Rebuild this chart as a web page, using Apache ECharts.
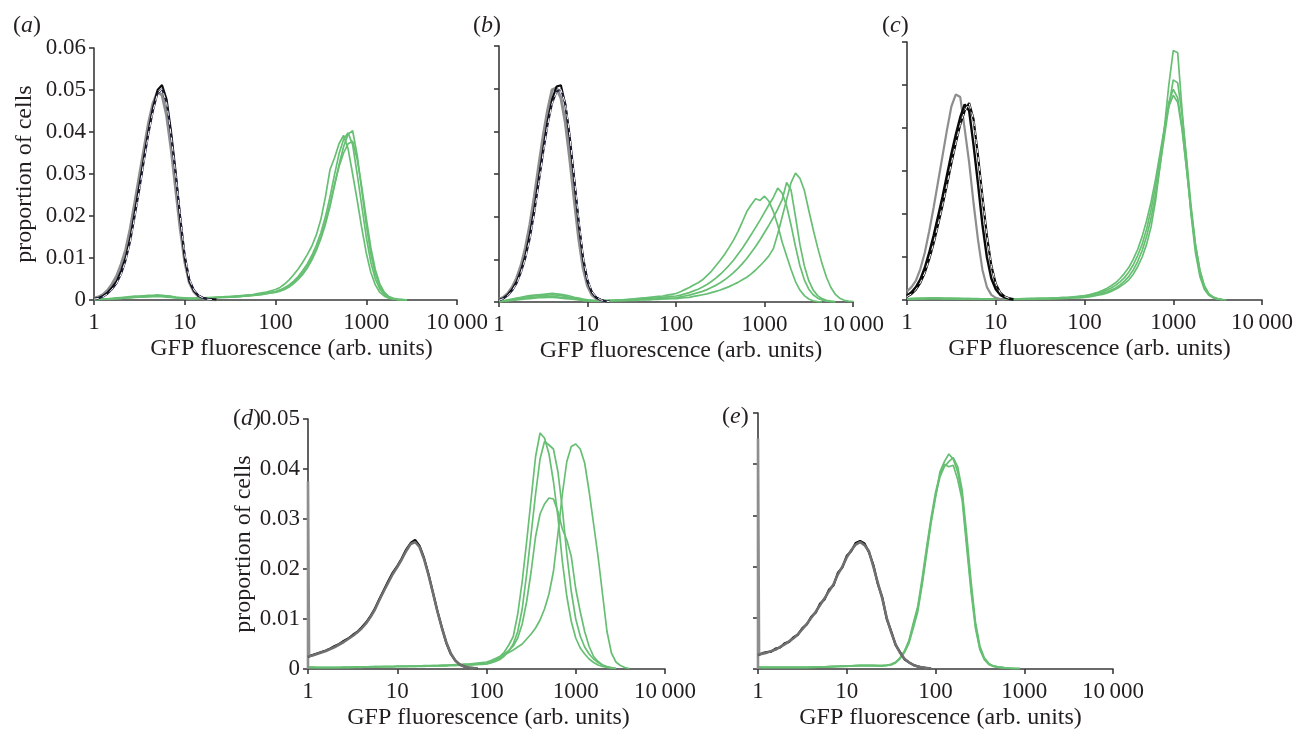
<!DOCTYPE html>
<html><head><meta charset="utf-8">
<script src="https://cdn.jsdelivr.net/npm/echarts@6/dist/echarts.min.js"></script>
<style>html,body{margin:0;padding:0;background:#fff}#c{width:1306px;height:731px}</style>
</head><body><div id="c"></div><script>
// bin centres, log10 of GFP fluorescence (arb. units)
const logBins = [0,0.05,0.1,0.15,0.2,0.25,0.3,0.35,0.4,0.45,
 0.5,0.55,0.6,0.65,0.7,0.75,0.8,0.85,0.9,0.95,
 1,1.05,1.1,1.15,1.2,1.25,1.3,1.35,1.4,1.45,
 1.5,1.55,1.6,1.65,1.7,1.75,1.8,1.85,1.9,1.95,
 2,2.05,2.1,2.15,2.2,2.25,2.3,2.35,2.4,2.45,
 2.5,2.55,2.6,2.65,2.7,2.75,2.8,2.85,2.9,2.95,
 3,3.05,3.1,3.15,3.2,3.25,3.3,3.35,3.4,3.45,
 3.5,3.55,3.6,3.65,3.7,3.75,3.8,3.85,3.9,3.95,4];
const xTickLabels = ['1','10','100','1000','10\u2009000'];
const yTickLabels = ['0','0.01','0.02','0.03','0.04','0.05','0.06'];
const panelLetters = ['a','b','c','d','e'];
const xName = 'GFP fluorescence (arb. units)';
const yName = 'proportion of cells';

// proportion of cells, in units of 1/10 000, per bin (starting at logBins[0])
// ---- panel (a)
const aGray = [4,7,13,23,38,57,85,120,170,232, 295,358,420,468,495,488,440,360,265,170, 92,42,20,9,4,2,1,0];
const aBlack = [3,5,10,18,30,45,70,102,148,210, 272,338,402,458,500,512,478,400,305,195, 100,45,22,10,5,3,2,1];
const aDash = [2,4,8,15,26,40,62,95,140,200, 262,330,395,450,492,502,470,392,300,200, 108,50,24,11,5,2,1];
const aG1 = [2,2,3,3,4,5,6,7,8,9, 9,10,11,11,12,11,10,9,7,6, 5,4,4,5,5,6,6,7,7,8, 8,9,10,11,12,13,15,17,19,22,
 25,30,38,48,60,74,90,108,128,155, 192,245,310,338,372,392,360,300,238,172, 112,66,36,18,9,4,2,1,1,0];
const aG2 = [1,2,2,3,3,4,5,6,7,7, 8,9,9,10,10,10,9,8,6,5, 4,4,4,4,5,5,6,6,7,7, 8,8,9,10,11,12,13,15,17,19,
 20,24,29,36,45,56,70,86,106,130, 160,198,245,298,348,382,398,370,300,225, 150,90,50,26,12,6,3,1,0,0];
const aG3 = [2,2,2,3,3,4,4,5,6,7, 7,8,8,9,9,9,8,7,6,5, 4,4,4,4,4,5,5,6,6,7, 7,8,8,9,10,11,12,14,15,17,
 18,21,25,31,39,49,61,76,95,118, 146,180,222,272,322,365,395,403,345,262, 180,110,62,32,15,7,3,1,0,0];
const aG4 = [1,1,2,2,3,3,4,5,5,6, 7,7,8,8,8,8,7,6,5,4, 4,3,3,4,4,4,5,5,6,6, 7,7,8,9,10,11,12,13,15,17,
 19,23,28,34,42,52,65,80,99,122, 150,186,228,275,318,350,372,378,335,270, 195,125,72,38,18,8,4,2,1,0];
// ---- panel (b)
const bGray = [6,11,20,35,56,86,128,182,248,320, 390,450,497,502,478,420,335,240,150,80, 38,17,8,4,2,1];
const bBlack = [5,9,17,30,48,75,110,160,220,290, 360,425,475,505,508,462,382,285,185,100, 48,22,10,5,2,1];
const bDash = [4,8,15,27,44,70,104,150,210,280, 350,415,465,493,498,465,390,292,192,106, 52,24,11,5,2,1];
const bG1 = [2,3,5,7,9,11,13,15,16,17, 18,19,20,19,18,16,14,11,9,7, 5,4,3,3,3,4,4,5,5,6, 7,8,9,10,11,12,13,14,16,18,
 20,24,29,34,40,45,52,62,72,85, 98,112,128,145,165,188,212,228,242,238, 248,236,212,180,140,108,76,48,28,15, 7,3,1,0];
const bG2 = [2,3,4,6,8,10,12,13,14,15, 16,16,17,16,15,13,11,9,7,5, 4,3,3,3,3,3,4,4,5,5, 6,6,7,8,8,9,10,11,12,13,
 14,16,19,22,26,30,35,41,48,56, 65,75,86,98,112,126,142,158,175,192, 210,228,245,267,255,225,180,130,85,52, 30,17,9,5,2,1,0];
const bG3 = [1,2,3,5,6,8,9,10,11,12, 13,13,13,12,11,10,9,7,6,4, 3,3,2,2,3,3,3,4,4,4, 5,5,6,6,7,7,8,8,9,9,
 10,12,14,16,19,22,25,29,34,39, 45,52,60,69,79,90,102,116,130,146, 163,180,198,218,240,280,262,200,135,85, 50,28,15,8,4,2,1];
const bG4 = [1,2,3,4,5,6,7,8,9,10, 10,11,11,10,9,8,7,6,5,4, 3,2,2,2,2,3,3,3,3,4, 4,4,5,5,5,6,6,7,7,8,
 8,9,10,11,13,15,17,19,22,25, 28,32,36,41,46,52,58,66,75,85, 96,108,125,160,200,240,280,302,290,262, 215,170,128,90,58,34,18,9,4,2,1];
// ---- panel (c)
const cGray = [20,30,45,72,110,160,215,275,335,395, 450,478,472,398,320,225,140,70,30,12, 5,2,1];
const cBlack = [10,18,30,48,75,110,150,195,240,290, 340,385,425,455,440,360,270,175,100,50, 25,12,6,3,1];
const cDark = [8,14,24,40,63,95,132,175,220,268, 318,365,408,440,458,420,335,240,150,80, 38,17,8,4,2];
const cG1 = [3,3,4,4,4,5,5,5,4,4, 4,4,3,3,3,3,3,2,2,2, 2,2,2,2,2,2,2,2,2,3, 3,3,3,3,4,4,4,5,5,5,
 6,7,9,11,13,16,20,25,31,38, 47,60,78,100,130,170,230,310,400,500, 580,575,440,320,200,110,55,25,11,5, 2,1,0];
const cG2 = [2,3,3,3,4,4,4,4,4,3, 3,3,3,3,3,2,2,2,2,2, 2,2,2,2,2,2,2,2,3,3, 3,3,3,4,4,4,5,5,6,7,
 8,9,11,13,16,19,23,28,35,44, 55,70,90,115,148,190,245,310,380,450, 512,505,430,330,220,130,68,32,14,6, 3,1];
const cG3 = [2,2,3,3,3,4,4,4,3,3, 3,3,3,2,2,2,2,2,2,2, 2,2,2,2,2,2,2,3,3,3, 3,3,4,4,4,5,5,6,7,8,
 9,11,13,16,19,23,28,34,42,52, 65,82,104,130,165,210,265,330,395,460, 490,470,400,305,205,122,64,30,13,6, 3,1];
const cG4 = [2,2,2,3,3,3,3,3,3,3, 3,2,2,2,2,2,2,2,2,2, 2,2,2,2,2,2,3,3,3,3, 4,4,4,5,5,6,6,7,8,9,
 10,12,15,18,22,27,33,40,50,62, 76,95,118,148,185,228,280,340,400,450, 476,460,395,305,210,128,70,34,15,7, 3,1];
// ---- panel (d)
const dSpikeLog = [0,0,0.012];
const dSpikeVal = [0,375,25];
const dGray = [25,27,30,33,36,40,44,49,54,60, 66,73,81,91,104,119,138,156,173,190, 204,219,236,250,254,244,220,188,152,115, 82,53,31,17,9,5,3,2,1];
const dBlack = [24,28,31,34,37,41,46,50,56,61, 68,74,83,93,106,121,140,158,176,193, 206,221,239,252,258,246,222,190,153,116, 83,52,30,17,9,5,3,2,1];
const dG1 = [4,4,3,3,3,3,3,3,3,3, 4,4,4,4,4,5,5,5,5,5, 5,5,5,6,6,6,6,6,7,7, 7,7,8,8,8,9,9,10,10,11,
 12,15,19,25,34,48,65,110,175,255, 340,425,472,462,430,375,305,215,145,95, 62,42,30,20,13,8,5,3,2,1];
const dG2 = [3,3,3,3,3,3,3,3,3,3, 3,4,4,4,4,4,4,5,5,5, 5,5,5,5,5,6,6,6,6,6, 6,7,7,7,8,8,8,9,9,10,
 10,12,15,19,26,36,50,75,120,190, 270,350,420,455,448,440,395,320,230,155, 100,66,44,30,20,13,8,5,3,1];
const dG3 = [3,3,3,3,3,3,3,3,4,4, 4,4,4,4,5,5,5,5,5,5, 6,6,6,6,6,6,7,7,7,7, 8,8,8,9,9,10,10,11,12,13,
 14,17,21,25,30,37,46,62,90,135, 195,265,310,330,342,340,315,280,258,225, 160,115,75,45,25,15,8,4,2,1];
const dG4 = [3,3,3,3,3,3,3,3,3,3, 3,3,3,4,4,4,4,4,4,4, 5,5,5,5,5,5,5,6,6,6, 6,6,7,7,7,8,8,8,9,9,
 10,13,17,22,28,33,38,44,50,60, 70,82,98,120,150,195,270,350,415,445, 450,440,412,355,290,225,150,75,32,14, 7,3,1];
// ---- panel (e)
const eSpikeLog = [0,0,0.012];
const eSpikeVal = [0,450,28];
const eGray = [28,30,32,35,38,43,48,54,60,68, 78,88,100,112,125,138,152,165,185,200, 218,232,243,248,242,230,200,168,138,100, 72,48,32,20,13,8,5,3,2,1];
const eBlack = [27,31,33,34,40,42,50,53,62,67, 80,87,102,110,128,136,155,163,188,198, 221,230,246,250,245,228,203,166,140,98, 74,47,33,19,13,8,5,3,2,1];
const eG1 = [4,3,3,3,3,3,3,3,3,3, 3,3,3,4,4,4,4,5,5,5, 6,6,7,7,7,7,7,7,7,7,
 8,12,20,32,50,80,112,165,225,285, 335,385,405,420,410,385,340,250,160,85, 40,20,10,6,4,3,2,2,1,1];
const eG2 = [3,3,3,3,3,3,3,3,3,3, 3,3,4,4,4,4,5,5,5,6, 6,6,6,7,7,7,7,6,6,7,
 9,13,21,34,54,86,118,170,232,290, 338,375,395,405,413,395,350,265,172,92, 45,22,11,6,4,3,2,1,1,1];
const eG3 = [3,3,3,3,3,3,3,3,3,3, 3,3,3,3,4,4,4,4,5,5, 5,6,6,6,6,6,6,6,6,7,
 9,13,22,35,55,90,122,178,238,295, 345,380,400,395,398,370,330,240,152,80, 38,18,9,5,3,2,2,1,1,1];

const FONT = '"Liberation Serif","Times New Roman",serif';
const TXT = '#231f20';
const GREEN = '#66bf72', GRAY = '#8e8e8e', BLACK = '#0a0a0a';

const grids = [
  {left:94, top:48, width:363, height:252},
  {left:499, top:46, width:354, height:256},
  {left:907, top:42, width:355, height:258},
  {left:308, top:419, width:357, height:256},
  {left:758, top:413, width:355, height:260}
];
const yMax = [0.06,0.06,0.06,0.05,0.05];
const showY = [true,false,false,true,false];
const yNameGap = [57,0,0,49,0];
const xNameShift = [32,10,10,4,10];
const letterPos = [[8,9],[468,9],[877,9],[228,402],[717,400]];

function toData(arr){ return arr.map((v,i)=>[logBins[i], v/10000]); }
function pairData(xs, vs){ return xs.map((x,i)=>[x, vs[i]/10000]); }
function line(k, data, color, width, dash){
  return {type:'line', xAxisIndex:k, yAxisIndex:k, data:data, symbol:'none', showSymbol:false,
    lineStyle:{color:color, width:width, type: dash ? [5,4] : 'solid'}, silent:true, animation:false, z: dash?5:3};
}
const series = [];
const greens = [[aG1,aG2,aG3,aG4],[bG1,bG2,bG3,bG4],[cG1,cG2,cG3,cG4],[dG1,dG2,dG3,dG4],[eG1,eG2,eG3]];
greens.forEach((g,k)=>g.forEach(arr=>series.push(line(k,toData(arr),GREEN,1.7))));
// panel a
series.push(line(0,toData(aGray),GRAY,3));
series.push(line(0,toData(aBlack),BLACK,2));
series.push(line(0,toData(aDash),'#1b1d3a',1.8));
series.push(line(0,toData(aDash),'#ffffff',1,true));
// panel b
series.push(line(1,toData(bGray),GRAY,3));
series.push(line(1,toData(bBlack),BLACK,2));
series.push(line(1,toData(bDash),'#1b1d3a',1.8));
series.push(line(1,toData(bDash),'#ffffff',1,true));
// panel c
series.push(line(2,toData(cGray),GRAY,2.2));
series.push(line(2,toData(cBlack),BLACK,2.4));
series.push(line(2,toData(cDark),BLACK,2.2));
series.push(line(2,toData(cDark),'#ffffff',1,true));
// panel d
series.push(line(3,pairData(dSpikeLog,dSpikeVal),GRAY,2.6));
series.push(line(3,toData(dBlack),BLACK,2.2));
series.push(line(3,toData(dGray),'#6f6f6f',2.6));
// panel e
series.push(line(4,pairData(eSpikeLog,eSpikeVal),GRAY,2.6));
series.push(line(4,toData(eBlack),BLACK,2.2));
series.push(line(4,toData(eGray),'#6f6f6f',2.6));

const axisLineStyle = {color:'#3a3a3a', width:1.6};
const option = {
  backgroundColor:'#ffffff',
  animation:false,
  title: panelLetters.map((l,k)=>({
    text:'({i|'+l+'})', left:letterPos[k][0], top:letterPos[k][1],
    textStyle:{fontFamily:FONT, fontSize:24, fontWeight:'normal', color:TXT,
      rich:{i:{fontFamily:FONT, fontSize:24, fontStyle:'italic', color:TXT}}}
  })),
  grid: grids,
  xAxis: grids.map((g,k)=>({
    type:'value', gridIndex:k, min:0, max:4, interval:1,
    axisLine:{show:true, onZero:false, lineStyle:axisLineStyle},
    axisTick:{show:true, length:5, lineStyle:axisLineStyle},
    splitLine:{show:false},
    axisLabel:{fontFamily:FONT, fontSize:23, color:TXT, margin:11, formatter:v=>xTickLabels[Math.round(v)]},
    name:xName, nameLocation:'middle', nameGap:37,
    nameTextStyle:{fontFamily:FONT, fontSize:24, color:TXT, padding:[0,0,0,xNameShift[k]]}
  })),
  yAxis: grids.map((g,k)=>({
    type:'value', gridIndex:k, min:0, max:yMax[k], interval:0.01,
    axisLine:{show:true, lineStyle:axisLineStyle},
    axisTick:{show:true, length:5, lineStyle:axisLineStyle},
    splitLine:{show:false},
    axisLabel:{show:showY[k], fontFamily:FONT, fontSize:23, color:TXT, margin:8,
      formatter:v=>yTickLabels[Math.round(v*100)]},
    name: showY[k] ? yName : '', nameLocation:'middle', nameGap:yNameGap[k],
    nameTextStyle:{fontFamily:FONT, fontSize:24, color:TXT}
  })),
  series: series
};
const chart = echarts.init(document.getElementById('c'), null, {renderer:'canvas'});
chart.setOption(option);
</script></body></html>
